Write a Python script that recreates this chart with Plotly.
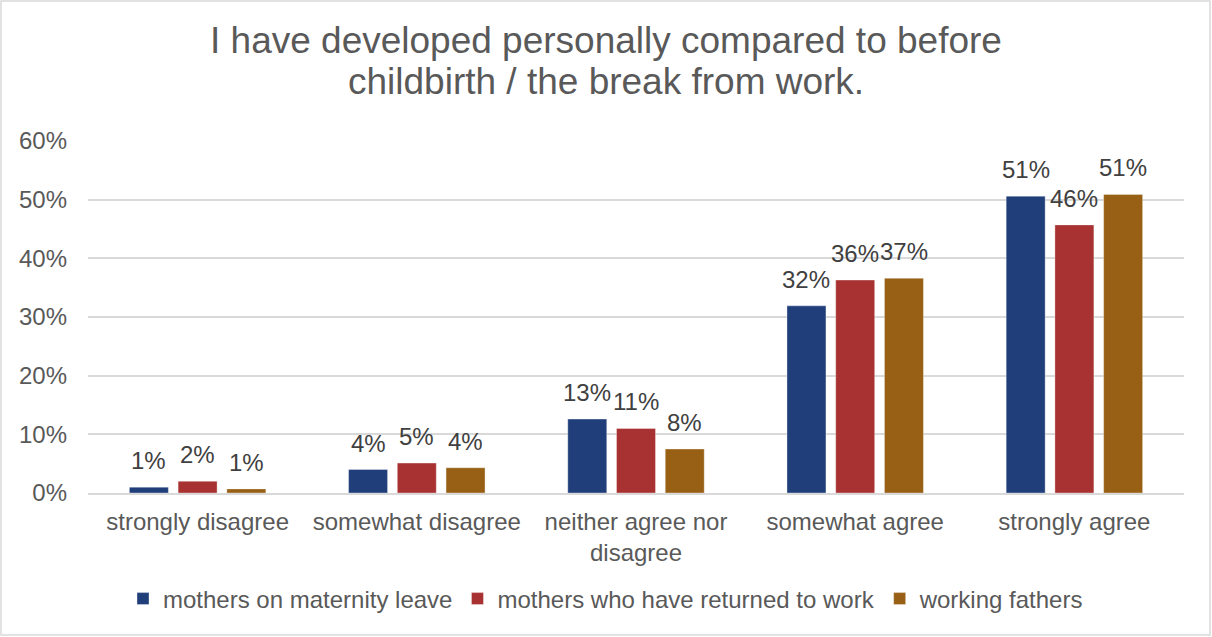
import plotly.graph_objects as go

categories = ["strongly disagree", "somewhat disagree", "neither agree nor<br>disagree",
              "somewhat agree", "strongly agree"]
series_names = ["mothers on maternity leave", "mothers who have returned to work", "working fathers"]
maternity_leave = [1.0, 4.0, 12.6, 31.9, 50.6]
returned_to_work = [2.0, 5.1, 11.0, 36.3, 45.7]
working_fathers = [0.7, 4.3, 7.5, 36.6, 50.9]
colors = ["#203F7A", "#A83232", "#976014"]
y_ticks = [0, 10, 20, 30, 40, 50, 60]
title_lines = ["I have developed personally compared to before",
               "childbirth / the break from work."]

FONT = "Liberation Sans, Arial, sans-serif"
W, H = 1212, 637
M_L, M_R, M_T, M_B = 88, 28, 141, 144
BARGAP, BARGROUPGAP = 0.333, 0.2

plot_w = W - M_L - M_R
plot_h = H - M_T - M_B
series = [maternity_leave, returned_to_work, working_fathers]


def px_to_paper_x(px):
    return (px - M_L) / plot_w


def py_to_paper(py):
    return (H - M_B - py) / plot_h


fig = go.Figure()
for name, vals, col in zip(series_names, series, colors):
    fig.add_trace(go.Bar(
        name=name, x=categories, y=vals,
        marker=dict(color=col, line=dict(color="rgba(255,255,255,0.35)", width=1)),
        cliponaxis=False,
    ))

# value labels above each bar, offset to the bar's slot within its group
slot_px = plot_w / len(categories) * (1 - BARGAP) / len(series)
for i, vals in enumerate(series):
    dx = (i - (len(series) - 1) / 2) * slot_px
    for cat, v in zip(categories, vals):
        fig.add_annotation(x=cat, y=v, xref="x", yref="y", text=f"{round(v)}%",
                           showarrow=False, xanchor="center", yanchor="bottom",
                           xshift=dx, yshift=11,
                           font=dict(size=24, color="#404040", family=FONT))

# two-line title with compact line spacing, centred on the whole chart
for line, py in zip(title_lines, [41, 82]):
    fig.add_annotation(x=px_to_paper_x(W / 2), y=py_to_paper(py), xref="paper", yref="paper",
                       text=line, showarrow=False, xanchor="center", yanchor="middle",
                       font=dict(size=37, color="#595959", family=FONT))

# chart frame
fig.add_shape(type="rect", xref="paper", yref="paper",
              x0=px_to_paper_x(1), x1=px_to_paper_x(1210),
              y0=py_to_paper(635), y1=py_to_paper(1),
              line=dict(color="#D9D9D9", width=1.5), layer="below")

fig.update_layout(
    width=W, height=H,
    margin=dict(l=M_L, r=M_R, t=M_T, b=M_B),
    paper_bgcolor="white", plot_bgcolor="white",
    barmode="group", bargap=BARGAP, bargroupgap=BARGROUPGAP,
    font=dict(family=FONT, color="#595959", size=24),
    xaxis=dict(showline=True, linecolor="#D9D9D9", linewidth=1.5, ticks="",
               tickfont=dict(size=24, color="#595959"), ticklabelstandoff=6),
    yaxis=dict(range=[0, 60], tickvals=y_ticks, ticktext=[f"{t}%" for t in y_ticks],
               showgrid=True, gridcolor="#D9D9D9", gridwidth=1.5, zeroline=False,
               ticks="", tickfont=dict(size=24, color="#595959"), ticklabelstandoff=20),
    legend=dict(orientation="h", x=px_to_paper_x(W / 2), xanchor="center",
                y=py_to_paper(599), yanchor="middle",
                font=dict(size=24, color="#595959"), itemwidth=30, traceorder="normal"),
    showlegend=True,
)

fig.write_html("out.html")
